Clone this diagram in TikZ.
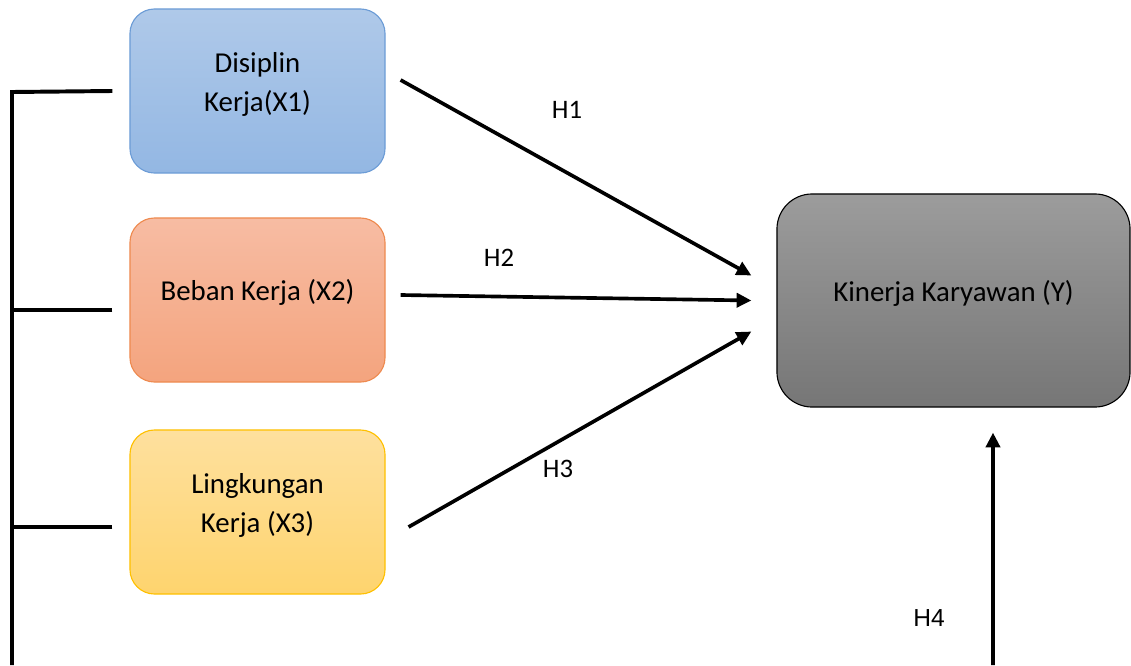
\documentclass[tikz,border=0pt]{standalone}
\usepackage{fontspec}
\setmainfont{Carlito}
\newfontfamily\hfourfont{Liberation Sans}
\definecolor{bluetop}{HTML}{AFC9E9}
\definecolor{bluebot}{HTML}{93B7E3}
\definecolor{blueline}{HTML}{6C9CD6}
\definecolor{orangetop}{HTML}{F7BCA3}
\definecolor{orangebot}{HTML}{F4A47E}
\definecolor{orangeline}{HTML}{EE8A4F}
\definecolor{yellowtop}{HTML}{FEE09E}
\definecolor{yellowbot}{HTML}{FED46E}
\definecolor{yellowline}{HTML}{FFC000}
\definecolor{greytop}{HTML}{9C9C9C}
\definecolor{greybot}{HTML}{767676}
\usetikzlibrary{arrows.meta}
\usetikzlibrary{positioning}
\tikzstyle{base}=[x=0.025cm, y=-0.025cm]
\tikzstyle{varbox}=[rounded corners=17.5pt, minimum width=6.375cm, minimum height=4.1cm, align=center, inner sep=0pt, line width=0.8pt, font=\fontsize{20.5}{28}\selectfont]
\tikzstyle{link}=[line width=2.8pt]
\tikzstyle{arr}=[line width=2.6pt, -{Triangle[length=10.5pt, width=10pt]}]
\tikzstyle{hlabel}=[font=\fontsize{19}{22}\selectfont]

\begin{document}
\begin{tikzpicture}[base]
    \useasboundingbox (0,0) rectangle (1131,665);
    \node [varbox, draw=blueline, top color=bluetop, bottom color=bluebot] (dis) at (257.5,91) {Disiplin\\Kerja(X1)\\[-15pt]};
    \node [varbox, draw=orangeline, top color=orangetop, bottom color=orangebot] (beb) at (257.5,300) {Beban Kerja (X2)\\[-14pt]};
    \node [varbox, draw=yellowline, top color=yellowtop, bottom color=yellowbot] (ling) at (257.5,512) {Lingkungan\\Kerja (X3)\\[-15pt]};
    \node [varbox, draw=black, top color=greytop, bottom color=greybot, rounded corners=25pt, minimum width=8.825cm, minimum height=5.325cm] (kin) at (953.5,300.5) {Kinerja Karyawan (Y)\\[-14pt]};
    \coordinate (top) at (12,92);
    \coordinate (bot) at (12,665);
    \coordinate (h1s) at ([shift={(15,-11)}]dis.east);
    \coordinate (h2s) at ([shift={(15,-5)}]beb.east);
    \coordinate (h3s) at ([shift={(23,15)}]ling.east);
    \coordinate (h4s) at (993,665);
    \draw [link] ([shift={(-17,0)}]dis.west) -- (top) -- (bot);
    \draw [link] ([shift={(-17,10)}]beb.west) -- (12,310);
    \draw [link] ([shift={(-17,15)}]ling.west) -- (12,527);
    \draw [arr] (h1s) -- ([shift={(-25,-25)}]kin.west);
    \draw [arr] (h2s) -- ([shift={(-25,0)}]kin.west);
    \draw [arr] (h3s) -- ([shift={(-25,31)}]kin.west);
    \draw [arr] (h4s) -- ([shift={(39.5,25)}]kin.south);
    \node [hlabel] (h1) at (567,110) {H1};
    \node [hlabel] (h2) at (499,258) {H2};
    \node [hlabel] (h3) at (558,469) {H3};
    \node [hlabel, font=\hfourfont\fontsize{17.5}{20}\selectfont] (h4) at (929,618) {H4};
\end{tikzpicture}
\end{document}
